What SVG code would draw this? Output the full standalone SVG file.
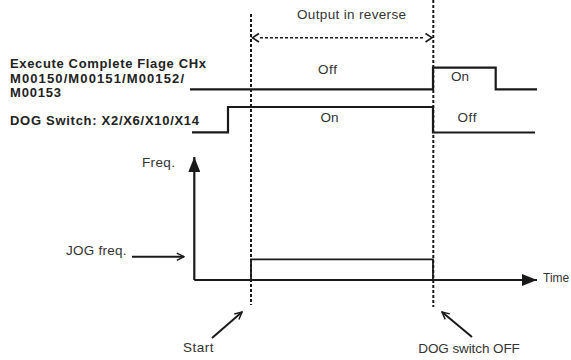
<svg xmlns="http://www.w3.org/2000/svg" width="571" height="360" viewBox="0 0 571 360">
<defs>
<marker id="open" viewBox="0 0 10 10" refX="9" refY="5" markerWidth="9" markerHeight="9" markerUnits="userSpaceOnUse" orient="auto">
<path d="M1,1 L9,5 L1,9" fill="none" stroke="#1a1a1a" stroke-width="1.6"/>
</marker>
<marker id="solid" viewBox="0 0 10 10" refX="10" refY="5" markerWidth="15" markerHeight="12" markerUnits="userSpaceOnUse" orient="auto" preserveAspectRatio="none">
<path d="M0,0 L10,5 L0,10 Z" fill="#1a1a1a"/>
</marker>
</defs>
<style>
.t{font-family:"Liberation Sans",Arial,sans-serif;font-size:13.5px;fill:#333}
.b{font-family:"Liberation Sans",Arial,sans-serif;font-size:13px;font-weight:bold;fill:#222}
.sig{fill:none;stroke:#1a1a1a;stroke-width:2.2}
.dash{fill:none;stroke:#1a1a1a;stroke-width:2;stroke-dasharray:3,2}
.ax{fill:none;stroke:#1a1a1a;stroke-width:2.2}
.ptr{fill:none;stroke:#1a1a1a;stroke-width:2}
</style>
<rect width="571" height="360" fill="#fff"/>
<g id="labels">
<text class="b" x="10" y="68" textLength="196" lengthAdjust="spacing">Execute Complete Flage CHx</text>
<text class="b" x="10" y="83" textLength="174" lengthAdjust="spacing">M00150/M00151/M00152/</text>
<text class="b" x="10" y="97" textLength="51" lengthAdjust="spacing">M00153</text>
<text class="b" x="10" y="125" textLength="189" lengthAdjust="spacing">DOG Switch: X2/X6/X10/X14</text>
</g>
<g id="output-reverse">
<text class="t" x="297" y="19" textLength="109" lengthAdjust="spacing">Output in reverse</text>
</g>
<g id="flag-signal">
<path class="sig" d="M190,89.3 H433 V67.7 H495.7 V89.3 H537"/>
<text class="t" x="318" y="74" textLength="19" lengthAdjust="spacing">Off</text>
<text class="t" x="451" y="81" textLength="18" lengthAdjust="spacing">On</text>
</g>
<g id="dog-signal">
<path class="sig" d="M192,132.3 H228 V107 H433 V132.5 H535"/>
<text class="t" x="320.5" y="122" textLength="18" lengthAdjust="spacing">On</text>
<text class="t" x="457.5" y="122" textLength="19" lengthAdjust="spacing">Off</text>
</g>
<g id="freq-axis">
<line class="ax" x1="194.3" y1="280" x2="194.3" y2="157" marker-end="url(#solid)"/>
<text class="t" x="142" y="167" textLength="33" lengthAdjust="spacing">Freq.</text>
</g>
<g id="time-axis">
<line class="ax" x1="194.3" y1="280" x2="537" y2="280" marker-end="url(#solid)"/>
<text class="t" x="543" y="282" style="font-size:12px">Time</text>
</g>
<g id="jog-freq">
<path class="sig" d="M251,280 V259.3 H433 V280" style="stroke-width:1.8"/>
<text class="t" x="66" y="255" textLength="60.5" lengthAdjust="spacing">JOG freq.</text>
</g>
<g id="start">
<text class="t" x="183" y="352" textLength="30.5" lengthAdjust="spacing">Start</text>
</g>
<g id="dog-off">
<text class="t" x="418.3" y="353" textLength="101.5" lengthAdjust="spacing">DOG switch OFF</text>
</g>
<g id="connectors">
<line class="dash" x1="251" y1="14" x2="251" y2="305"/>
<line class="dash" x1="433.3" y1="0" x2="433.3" y2="307"/>
<line class="dash" x1="260" y1="37.7" x2="425" y2="37.7" style="stroke-width:1.5"/>
<path d="M259,33.5 L252.5,37.7 L259,42" fill="none" stroke="#1a1a1a" stroke-width="1.6"/>
<path d="M425.5,33.5 L432,37.7 L425.5,42" fill="none" stroke="#1a1a1a" stroke-width="1.6"/>
<line class="ptr" x1="132" y1="256.7" x2="184" y2="256.7" marker-end="url(#open)"/>
<line class="ptr" x1="212" y1="338" x2="242" y2="312" marker-end="url(#open)"/>
<line class="ptr" x1="472" y1="337" x2="442" y2="312" marker-end="url(#open)"/>
</g>
</svg>
